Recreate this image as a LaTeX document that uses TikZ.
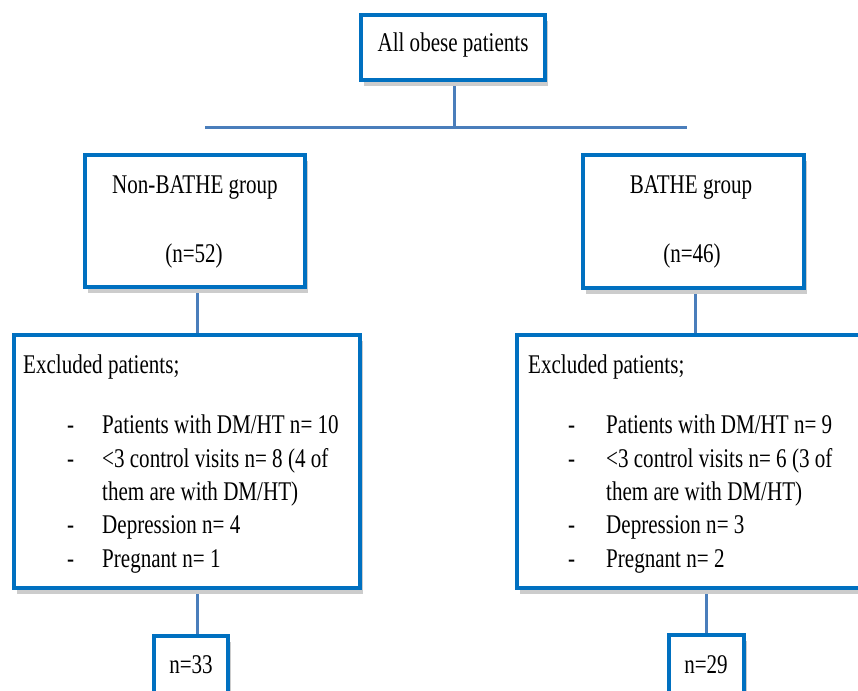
\documentclass[tikz,border=0pt]{standalone}
\usepackage{fontspec}
\setmainfont[FakeStretch=0.78]{Liberation Serif}
\usetikzlibrary{shadows,backgrounds}
\definecolor{boxblue}{HTML}{0070C0}
\definecolor{linkblue}{HTML}{4A7EBB}
\tikzset{
  box/.style={draw=boxblue, line width=4pt, fill=white, rectangle, inner sep=0pt,
    drop shadow={shadow xshift=3pt, shadow yshift=-6pt, fill=black!20, opacity=1}},
  conn/.style={draw=linkblue, line width=3pt},
  txt/.style={inner sep=0pt, font=\fontsize{27}{33}\selectfont},
  lt/.style={txt, anchor=base west},
  ct/.style={txt, anchor=base},
}
\begin{document}
\begin{tikzpicture}[x=1pt, y=-1pt]
\useasboundingbox (0,0) rectangle (858,690);
\clip (0,0) rectangle (858,690);
% boxes
\node[box, minimum width=184pt, minimum height=65pt] (top) at (453,47.5) {};
\node[box, minimum width=220pt, minimum height=132pt] (nb) at (195,221) {};
\node[box, minimum width=221pt, minimum height=133pt] (b) at (693.5,221.5) {};
\node[box, minimum width=346pt, minimum height=253pt] (exl) at (187,461.5) {};
\node[box, minimum width=383pt, minimum height=253pt] (exr) at (708.5,461.5) {};
\node[box, minimum width=74pt, minimum height=84pt] (nl) at (191,678) {};
\node[box, minimum width=75pt, minimum height=84pt] (nr) at (706.5,677) {};
% connectors
\coordinate (hl) at (205,127);
\coordinate (hr) at (687,127);
\coordinate (hm) at (454,127);
\coordinate (cl) at (197,0);
\coordinate (cr1) at (695,0);
\coordinate (cr2) at (706,0);
\begin{scope}[on background layer]
\draw[conn] (hl) -- (hr);
\draw[conn] (top.south -| hm) -- (hm);
\draw[conn] (nb.south -| cl) -- (exl.north -| cl);
\draw[conn] (b.south -| cr1) -- (exr.north -| cr1);
\draw[conn] (exl.south -| cl) -- (nl.north -| cl);
\draw[conn] (exr.south -| cr2) -- (nr.north -| cr2);
\end{scope}
% texts
\node[ct] (ttop) at (453,52) {All obese patients};
\node[ct] (tnb1) at (195,193) {Non-BATHE group};
\node[ct] (tnb2) at (194,262) {(n=52)};
\node[ct] (tb1) at (691,193) {BATHE group};
\node[ct] (tb2) at (692,262) {(n=46)};
\node[ct] (tnl) at (191,673) {n=33};
\node[ct] (tnr) at (706,673) {n=29};
% left excluded
\node[lt] (l0) at (23,373) {Excluded patients;};
\node[lt] (ld1) at (67,433) {-};
\node[lt] (ld2) at (67,467) {-};
\node[lt] (ld3) at (67,533) {-};
\node[lt] (ld4) at (67,567) {-};
\node[lt] (l1) at (102,433) {Patients with DM/HT n= 10};
\node[lt] (l2) at (102,467) {<3 control visits n= 8 (4 of};
\node[lt] (l3) at (102,500) {them are with DM/HT)};
\node[lt] (l4) at (102,533) {Depression n= 4};
\node[lt] (l5) at (102,567) {Pregnant n= 1};
% right excluded
\node[lt] (r0) at (528,373) {Excluded patients;};
\node[lt] (rd1) at (568,433) {-};
\node[lt] (rd2) at (568,467) {-};
\node[lt] (rd3) at (568,533) {-};
\node[lt] (rd4) at (568,567) {-};
\node[lt] (r1) at (606,433) {Patients with DM/HT n= 9};
\node[lt] (r2) at (606,467) {<3 control visits n= 6 (3 of};
\node[lt] (r3) at (606,500) {them are with DM/HT)};
\node[lt] (r4) at (606,533) {Depression n= 3};
\node[lt] (r5) at (606,567) {Pregnant n= 2};
\end{tikzpicture}
\end{document}
